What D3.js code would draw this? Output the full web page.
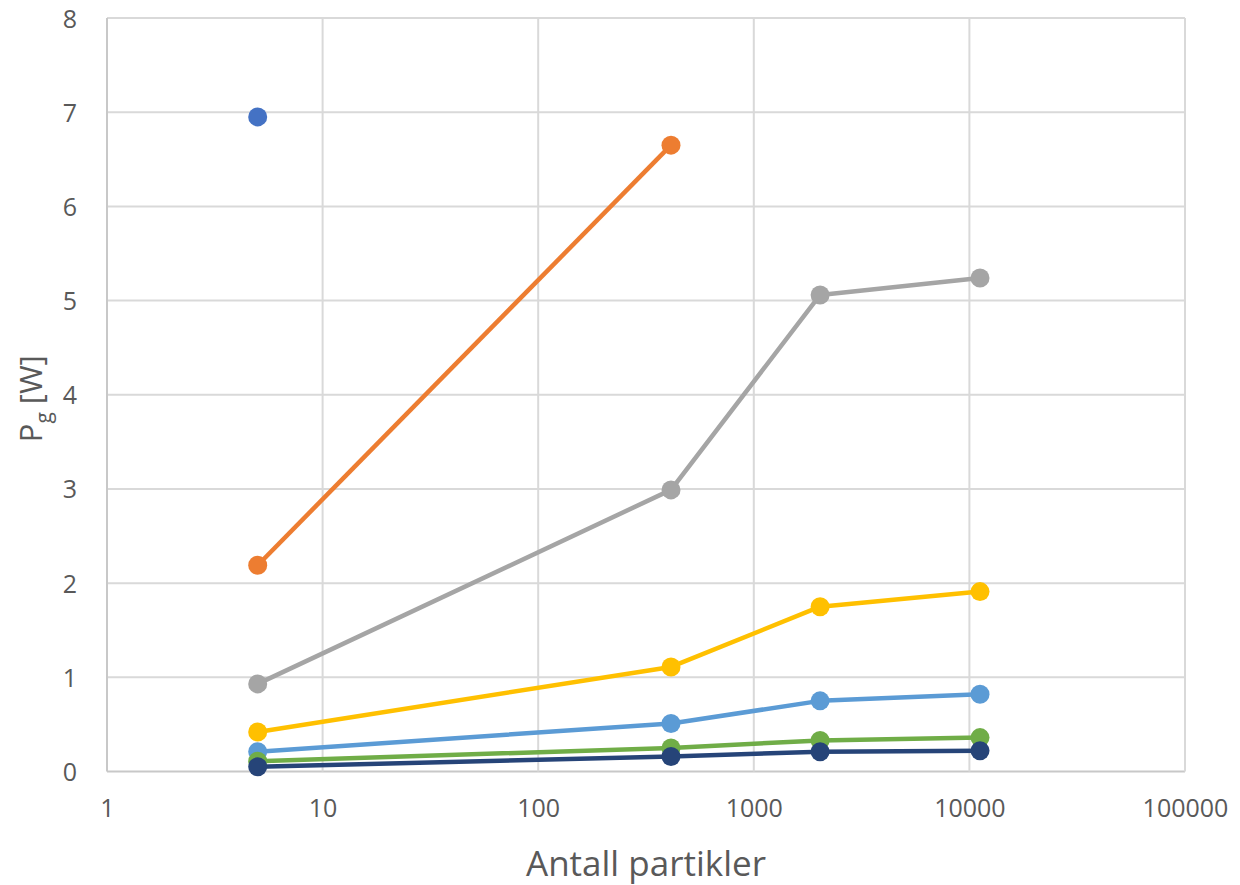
<!DOCTYPE html>
<html>
<head>
<meta charset="utf-8">
<script src="https://cdn.jsdelivr.net/npm/d3@7"></script>
<style>
  html, body { margin: 0; padding: 0; background: #fff; }
  svg { display: block; }
  text { font-family: "Open Sans", "Noto Sans", sans-serif; fill: #595959; }
</style>
</head>
<body>
<svg id="chart" width="1240" height="885"></svg>
<script>
// Particle counts (log scale on x)
const particles = [5, 413, 2030, 11200];

// Gravitational power P_g [W] per series (null = no value)
const series1 = [6.95, null, null, null];
const series2 = [2.19, 6.65, null, null];
const series3 = [0.93, 2.99, 5.06, 5.24];
const series4 = [0.42, 1.11, 1.75, 1.91];
const series5 = [0.21, 0.51, 0.75, 0.82];
const series6 = [0.11, 0.25, 0.33, 0.36];
const series7 = [0.05, 0.16, 0.21, 0.22];

const seriesColors = ["#4472C4", "#ED7D31", "#A5A5A5", "#FFC000", "#5B9BD5", "#70AD47", "#264478"];
const allSeries = [series1, series2, series3, series4, series5, series6, series7];

const xTicks = [1, 10, 100, 1000, 10000, 100000];
const yTicks = [0, 1, 2, 3, 4, 5, 6, 7, 8];

const svg = d3.select("#chart");
const plot = { left: 107, right: 1185, top: 18, bottom: 771.5 };

const x = d3.scaleLog().domain([1, 100000]).range([plot.left, plot.right]);
const y = d3.scaleLinear().domain([0, 8]).range([plot.bottom, plot.top]);

// Gridlines
const grid = svg.append("g");
grid.selectAll("line.h").data(yTicks).join("line")
  .attr("x1", plot.left).attr("x2", plot.right)
  .attr("y1", d => y(d)).attr("y2", d => y(d))
  .attr("stroke", d => d === 0 ? "#C8C8C8" : "#D9D9D9").attr("stroke-width", 2);
grid.selectAll("line.v").data(xTicks).join("line")
  .attr("y1", plot.top).attr("y2", plot.bottom)
  .attr("x1", d => x(d)).attr("x2", d => x(d))
  .attr("stroke", d => d === 1 ? "#C8C8C8" : "#D9D9D9").attr("stroke-width", 2);

// Axis tick labels
const yAxis = d3.axisLeft(y).tickValues(yTicks).tickSize(0).tickPadding(0).tickFormat(d3.format("d"));
svg.append("g").attr("transform", `translate(${plot.left - 30},0)`).call(yAxis)
  .call(g => g.select(".domain").remove())
  .call(g => g.selectAll("text").attr("font-size", 25).attr("fill", "#595959").attr("dy", "0.36em")
    .style("font-family", "'Open Sans', sans-serif"));

const xAxis = d3.axisBottom(x).tickValues(xTicks).tickSize(0).tickPadding(0).tickFormat(d3.format("d"));
svg.append("g").attr("transform", `translate(0,${plot.bottom + 28})`).call(xAxis)
  .call(g => g.select(".domain").remove())
  .call(g => g.selectAll("text").attr("font-size", 25).attr("fill", "#595959").attr("dy", "0.71em")
    .style("font-family", "'Open Sans', sans-serif"));

// Axis titles
svg.append("text")
  .attr("x", (plot.left + plot.right) / 2).attr("y", 876)
  .attr("text-anchor", "middle").attr("font-size", 35)
  .text("Antall partikler");

const yTitle = svg.append("text")
  .attr("transform", `translate(42,${(plot.top + plot.bottom) / 2 + 4}) rotate(-90)`)
  .attr("text-anchor", "middle").attr("font-size", 31);
yTitle.append("tspan").text("P");
yTitle.append("tspan").attr("font-size", 21).attr("dy", 9).text("g");
yTitle.append("tspan").attr("dy", -9).text(" [W]");

// Series lines and markers
const line = d3.line()
  .defined(d => d.v !== null)
  .x(d => x(d.n)).y(d => y(d.v));

allSeries.forEach((vals, i) => {
  const pts = particles.map((n, j) => ({ n, v: vals[j] }));
  const g = svg.append("g");
  g.append("path").datum(pts)
    .attr("fill", "none").attr("stroke", seriesColors[i])
    .attr("stroke-width", 4.5).attr("stroke-linejoin", "round")
    .attr("d", line);
  g.selectAll("circle").data(pts.filter(d => d.v !== null)).join("circle")
    .attr("cx", d => x(d.n)).attr("cy", d => y(d.v)).attr("r", 9.5)
    .attr("fill", seriesColors[i]);
});
</script>
</body>
</html>
